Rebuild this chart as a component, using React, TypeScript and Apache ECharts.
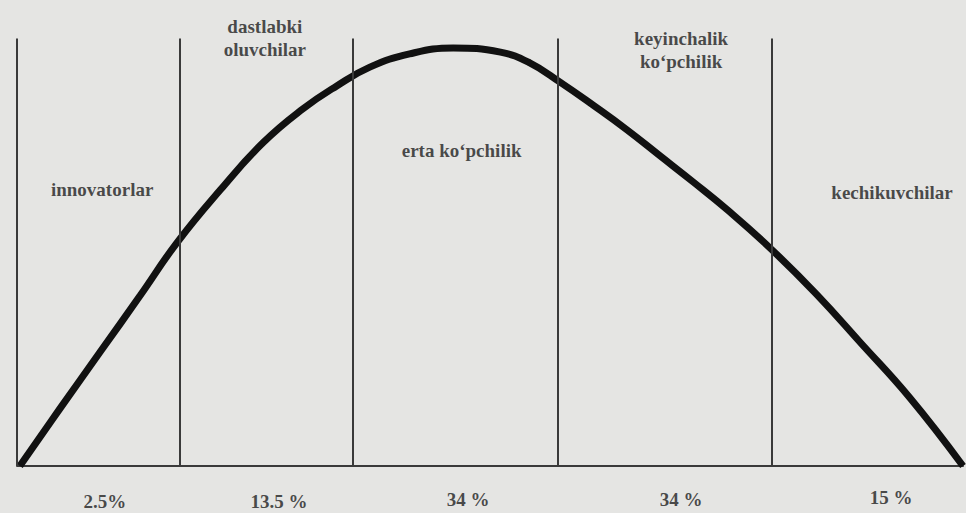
import React, { useEffect, useRef } from "react";
import * as echarts from "echarts";

// Segment boundaries along the adoption axis (0..100 scale)
const boundaries = [0, 17.2, 35.5, 57.2, 79.8];
const lineTop = 100;

// Adoption curve
const curveX = [0.3, 4.5, 8.8, 13.0, 16.9, 21.5, 26.0, 30.2, 33.8, 37.3, 41.5, 46.1, 51.1, 54.2, 57.4, 60.9, 64.5, 68.0, 71.5, 75.1, 79.6, 84.5, 89.1, 94.4, 100];
const curveY = [0, 13.3, 26.7, 39.8, 52.2, 64.6, 75.6, 83.5, 88.9, 93.3, 96.4, 97.8, 96.8, 94.3, 89.8, 84.4, 78.6, 72.5, 66.4, 59.9, 51.0, 40.2, 29.0, 15.9, 0];

// Adopter groups
const groupNames = ["innovatorlar", "dastlabki\noluvchilar", "erta ko\u2018pchilik", "keyinchalik\nko\u2018pchilik", "kechikuvchilar"];
const groupShares = ["2.5%", "13.5 %", "34 %", "34 %", "15 %"];
const nameAnchorX = [9.0, 26.2, 47.0, 70.2, 92.5];
const nameAnchorY = [64.6, 100.1, 73.9, 97.3, 63.9];
const shareAnchorX = [9.3, 27.7, 47.7, 70.2, 92.4];
const shareAnchorY = [-8.3, -8.2, -7.9, -7.9, -7.4];

const TEXT_COLOR = "#1e1e1e";
const LINE_COLOR = "#3a3a3a";
const FONT = "Liberation Serif";

export default function App() {
  const ref = useRef<HTMLDivElement>(null);
  useEffect(() => {
    if (!ref.current) return;
    const chart = echarts.init(ref.current, null, { renderer: "svg" });
    const labelStyle = {
      show: true,
      position: "inside" as const,
      color: TEXT_COLOR,
      fontFamily: FONT,
      fontWeight: "bold" as const,
      fontSize: 19,
      lineHeight: 23,
      formatter: (p: any) => p.value[2],
    };
    chart.setOption({
      animation: false,
      backgroundColor: "#e5e5e3",
      grid: { left: 17, right: 3, top: 0, bottom: 0 },
      xAxis: {
        type: "value",
        min: 0,
        max: 100,
        axisLine: { show: true, onZero: true, lineStyle: { color: LINE_COLOR, width: 2 } },
        axisTick: { show: false },
        axisLabel: { show: false },
        splitLine: { show: false },
      },
      yAxis: { type: "value", min: -11, max: 109, show: false },
      series: [
        {
          type: "line",
          data: [],
          z: 1,
          markLine: {
            silent: true,
            symbol: "none",
            label: { show: false },
            lineStyle: { color: LINE_COLOR, width: 2, type: "solid" },
            data: boundaries.map((b) => [{ coord: [b, 0] }, { coord: [b, lineTop] }]),
          },
        },
        {
          type: "line",
          z: 3,
          smooth: 0.45,
          symbol: "none",
          lineStyle: { color: "#111", width: 7 },
          data: curveX.map((x, i) => [x, curveY[i]]),
        },
        {
          type: "scatter",
          symbolSize: 0,
          z: 4,
          label: labelStyle,
          data: groupNames.map((n, i) => [nameAnchorX[i], nameAnchorY[i], n]),
        },
        {
          type: "scatter",
          symbolSize: 0,
          z: 4,
          label: labelStyle,
          data: groupShares.map((s, i) => [shareAnchorX[i], shareAnchorY[i], s]),
        },
      ],
    });
    return () => chart.dispose();
  }, []);
  return <div ref={ref} style={{ position: "fixed", left: 0, top: 0, width: 966, height: 513 }} />;
}
